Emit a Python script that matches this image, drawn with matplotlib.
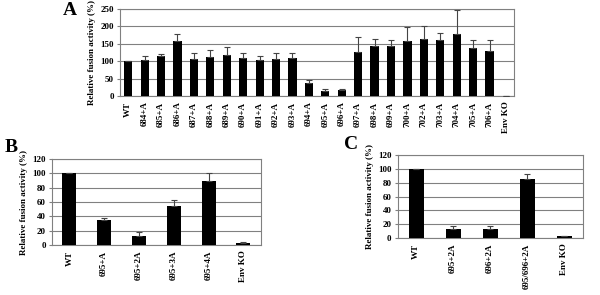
import matplotlib
matplotlib.use("Agg")
import matplotlib.pyplot as plt

plt.rcParams['font.family'] = ['Liberation Serif', 'DejaVu Serif']
plt.rcParams['font.weight'] = 'bold'

cats_a = ["WT", "684+A", "685+A", "686+A", "687+A", "688+A", "689+A", "690+A", "691+A",
          "692+A", "693+A", "694+A", "695+A", "696+A", "697+A", "698+A", "699+A", "700+A",
          "702+A", "703+A", "704+A", "705+A", "706+A", "Env KO"]
vals_a = [100, 104, 116, 159, 107, 112, 117, 108, 104, 105, 110, 38, 15, 17, 125, 144,
          144, 158, 164, 162, 178, 138, 129, 1]
errs_a = [0, 10, 4, 19, 17, 19, 25, 16, 10, 19, 13, 8, 5, 3, 44, 20, 16, 39, 38, 20, 68, 24, 32, 0]

cats_b = ["WT", "695+A", "695+2A", "695+3A", "695+4A", "Env KO"]
vals_b = [100, 34.7, 13, 55, 90, 3]
errs_b = [0, 2.5, 4.5, 8, 11, 0.7]

cats_c = ["WT", "695+2A", "696+2A", "695/696+2A", "Env KO"]
vals_c = [100, 13, 13, 86, 3]
errs_c = [0, 4.5, 4.5, 7, 0.5]

fig = plt.figure(figsize=(6.0, 2.95), dpi=100)

def panel(rect, cats, vals, errs, ymax, ystep, width, letter, lpos):
    ax = fig.add_axes(rect)
    x = list(range(len(cats)))
    ax.bar(x, vals, width=width, color='black', zorder=3,
           yerr=[[0]*len(errs), errs], error_kw=dict(ecolor='#444444', elinewidth=0.8, capsize=2, capthick=0.8, zorder=4))
    ax.set_xlim(-0.5, len(cats) - 0.5)
    ax.set_ylim(0, ymax)
    ax.set_yticks(range(0, ymax + 1, ystep))
    ax.yaxis.grid(True, color='#808080', linewidth=0.8, zorder=0)
    for s in ax.spines.values():
        s.set_color('#808080')
        s.set_linewidth(0.8)
    ax.set_xticks(x)
    ax.set_xticklabels(cats, rotation=90, fontsize=6.5, fontweight='bold')
    ax.tick_params(axis='x', length=0, pad=4)
    ax.tick_params(axis='y', labelsize=6.5, length=2.5, pad=2, color='#808080')
    for t in ax.get_yticklabels():
        t.set_fontweight('bold')
    ax.set_ylabel("Relative fusion activity (%)", fontsize=6.5, fontweight='bold', labelpad=3)
    fig.text(lpos[0], lpos[1], letter, fontsize=14, fontweight='bold', ha='left', va='center')
    return ax

panel([0.2, 0.6746, 0.657, 0.295], cats_a, vals_a, errs_a, 250, 50, 0.5, "A", (0.105, 0.965))
panel([0.0867, 0.1695, 0.348, 0.2915], cats_b, vals_b, errs_b, 120, 20, 0.4, "B", (0.008, 0.50))
panel([0.663, 0.1932, 0.308, 0.281], cats_c, vals_c, errs_c, 120, 20, 0.4, "C", (0.573, 0.51))

fig.savefig("out.png", dpi=100)
